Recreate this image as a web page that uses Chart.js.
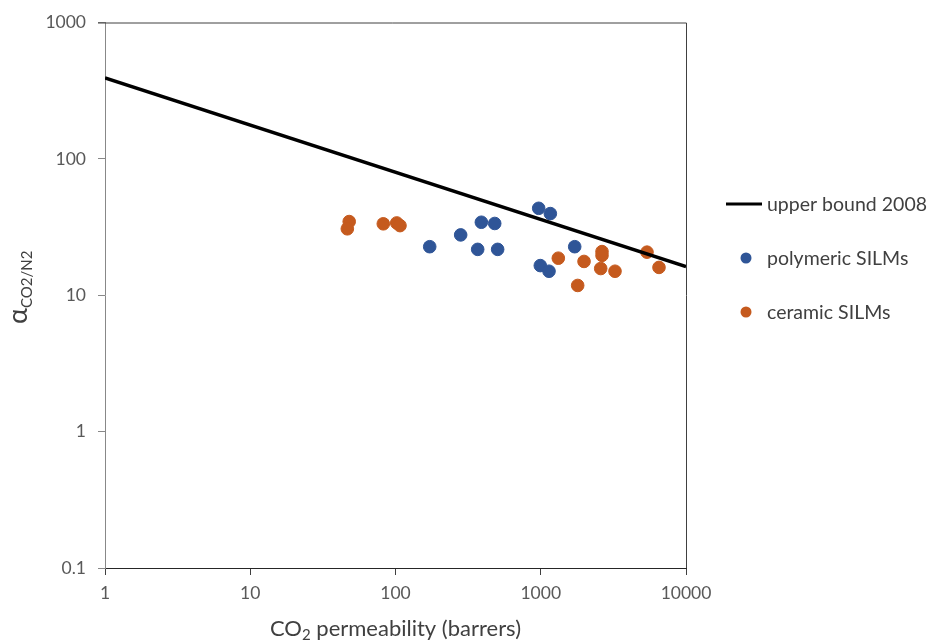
<!DOCTYPE html>
<html>
<head>
<meta charset="utf-8">
<script src="https://cdn.jsdelivr.net/npm/chart.js@4.4.1/dist/chart.umd.min.js"></script>
<style>
  html, body { margin: 0; padding: 0; background: #fff; }
  #wrap { width: 929px; height: 643px; position: relative; }
</style>
</head>
<body>
<div id="wrap"><canvas id="chart"></canvas></div>
<script>
// tick values on both log axes
const xTicks = [1, 10, 100, 1000, 10000];
const yTicks = [0.1, 1, 10, 100, 1000];

// Robeson upper bound 2008 (CO2/N2), end points
const boundX = [1, 10000];
const boundY = [392, 16.2];

// polymeric SILMs
const polyX = [172, 281, 390, 482, 368, 505, 968, 1164, 1713, 993, 1140];
const polyY = [22.7, 27.7, 34.3, 33.6, 21.7, 21.7, 43.4, 39.7, 22.7, 16.5, 15.0];

// ceramic SILMs
const ceramX = [48, 46.6, 82.4, 102, 107.4, 1321, 1986, 2641, 2641, 2587, 3245, 1796, 5388, 6517];
const ceramY = [34.7, 30.7, 33.4, 33.9, 32.4, 18.7, 17.7, 20.9, 19.6, 15.7, 15.0, 11.8, 20.7, 16.0];

const seriesNames = ['upper bound 2008', 'polymeric SILMs', 'ceramic SILMs'];

const BLUE = '#2f5597';
const ORANGE = '#c55a1e';
const TICK_FONT = { family: 'Lato', size: 17.5 };
const TEXT = '#404040';

const pts = (xs, ys) => xs.map((x, i) => ({ x, y: ys[i] }));

const titlesAndFrame = {
  id: 'titlesAndFrame',
  afterDraw(chart) {
    const { ctx, chartArea: a } = chart;
    ctx.save();
    // top + right border of plot box
    ctx.strokeStyle = '#404040';
    ctx.lineWidth = 1;
    ctx.beginPath();
    ctx.moveTo(a.left - 7, a.top + 0.5);
    ctx.lineTo(a.right + 0.5, a.top + 0.5);
    ctx.lineTo(a.right + 0.5, a.bottom);
    ctx.stroke();

    // x title with subscript
    ctx.fillStyle = TEXT;
    ctx.textBaseline = 'alphabetic';
    const big = '22px Lato', small = '15px Lato';
    ctx.font = big;
    const w1 = ctx.measureText('CO').width;
    const w3 = ctx.measureText(' permeability (barrers)').width;
    ctx.font = small;
    const w2 = ctx.measureText('2').width;
    let x = (a.left + a.right) / 2 - (w1 + w2 + w3) / 2;
    const base = 636;
    ctx.font = big; ctx.textAlign = 'left';
    ctx.fillText('CO', x, base); x += w1;
    ctx.font = small; ctx.fillText('2', x, base + 4); x += w2;
    ctx.font = big; ctx.fillText(' permeability (barrers)', x, base);

    // y title: alpha with CO2/N2 subscript
    ctx.translate(27, (a.top + a.bottom) / 2 - 8);
    ctx.rotate(-Math.PI / 2);
    const fa = '27px Lato', fs = '15px Lato';
    ctx.font = fa;
    const wa = ctx.measureText('α').width;
    ctx.font = fs;
    const ws = ctx.measureText('CO2/N2').width;
    let t = -(wa + ws) / 2;
    ctx.font = fa; ctx.fillText('α', t, 0); t += wa;
    ctx.font = fs; ctx.fillText('CO2/N2', t, 5);
    ctx.restore();

    // legend
    ctx.save();
    ctx.font = '19.5px Lato';
    ctx.fillStyle = TEXT;
    ctx.textBaseline = 'middle';
    const lx = 726, tx = 767, rows = [204, 258, 312];
    chart.data.datasets.forEach((ds, i) => {
      const y = rows[i];
      if (i === 0) {
        ctx.strokeStyle = ds.borderColor;
        ctx.lineWidth = 3;
        ctx.beginPath(); ctx.moveTo(lx, y); ctx.lineTo(lx + 36, y); ctx.stroke();
      } else {
        ctx.fillStyle = ds.backgroundColor;
        ctx.beginPath(); ctx.arc(lx + 20, y, 5.5, 0, Math.PI * 2); ctx.fill();
        ctx.fillStyle = TEXT;
      }
      ctx.fillText(ds.label, tx, y + 1);
    });
    ctx.restore();
  }
};

new Chart(document.getElementById('chart'), {
  type: 'scatter',
  data: {
    datasets: [
      { label: seriesNames[0], type: 'line', data: pts(boundX, boundY), borderColor: '#000', borderWidth: 3.5, pointRadius: 0, fill: false },
      { label: seriesNames[1], data: pts(polyX, polyY), backgroundColor: BLUE, borderColor: BLUE, pointRadius: 6.3, pointHoverRadius: 6.3 },
      { label: seriesNames[2], data: pts(ceramX, ceramY), backgroundColor: ORANGE, borderColor: ORANGE, pointRadius: 6.3, pointHoverRadius: 6.3 }
    ]
  },
  options: {
    responsive: true,
    maintainAspectRatio: false,
    animation: false,
    layout: { padding: { top: 22, right: 243, left: 0, bottom: 0 } },
    plugins: { legend: { display: false }, tooltip: { enabled: false } },
    scales: {
      x: {
        type: 'logarithmic',
        min: 1, max: 10000,
        afterBuildTicks: (s) => { s.ticks = xTicks.map((v) => ({ value: v })); },
        afterFit: (s) => { s.height = 75; },
        ticks: { color: '#595959', font: TICK_FONT, padding: 8, maxRotation: 0, autoSkip: false, callback: (v) => String(v) },
        grid: { drawOnChartArea: false, tickLength: 7, color: '#404040' },
        border: { color: '#262626', width: 1 }
      },
      y: {
        type: 'logarithmic',
        min: 0.1, max: 1000,
        afterBuildTicks: (s) => { s.ticks = yTicks.map((v) => ({ value: v })); },
        afterFit: (s) => { s.width = 105; },
        ticks: { color: '#595959', font: TICK_FONT, padding: 12, autoSkip: false, callback: (v) => String(v) },
        grid: { drawOnChartArea: false, tickLength: 7, color: '#888888' },
        border: { color: '#888888', width: 1 }
      }
    }
  },
  plugins: [titlesAndFrame]
});
</script>
</body>
</html>
